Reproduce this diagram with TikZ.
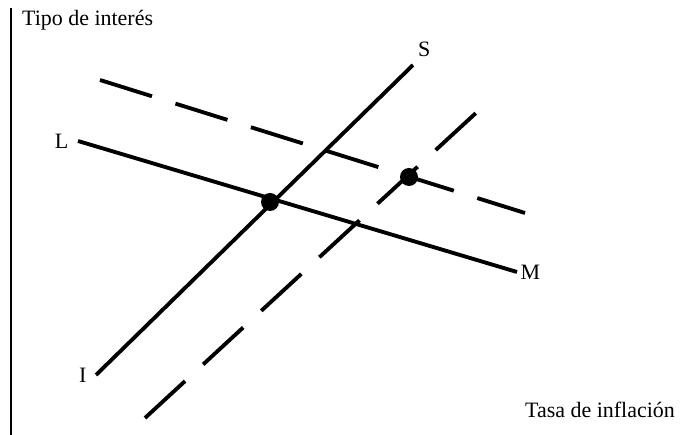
\documentclass[tikz,border=0pt]{standalone}
\usepackage{fontspec}
\setmainfont{Liberation Serif}
\usetikzlibrary{positioning}

\begin{document}
\begin{tikzpicture}[x=0.02cm,y=-0.02cm,font=\fontsize{12.5}{14}\selectfont]
\tikzstyle{curve}=[line width=2.2pt]
\tikzstyle{moved}=[curve,dash pattern=on 31pt off 14pt]
\tikzstyle{lbl}=[inner sep=1pt]
\tikzstyle{eq}=[circle,fill,inner sep=0pt,minimum size=0.36cm]
\useasboundingbox (0,0) rectangle (681,435);
% axis
\coordinate (ytop) at (11,8);
\coordinate (ybot) at (11,435);
\draw[line width=1.2pt] (ytop) -- (ybot);
\node[lbl,anchor=west] (ylab) at (20,20) {Tipo de interés};
\node[lbl,anchor=east] (xlab) at (677,410) {Tasa de inflación};
% LM
\coordinate (lm1) at (78,141);
\coordinate (lm2) at (517,272);
\draw[curve] (lm1) -- (lm2);
\node[lbl,left=1.5mm of lm1] (l) {L};
\node[lbl,right=0.3mm of lm2] (m) {M};
% IS
\coordinate (is1) at (96,375);
\coordinate (is2) at (413,65);
\draw[curve] (is1) -- (is2);
\node[lbl,left=1.5mm of is1] (i) {I};
\node[lbl,above right=1.2mm and 0.6mm of is2] (s) {S};
% shifted curves
\coordinate (lmb1) at (100,80);
\coordinate (lmb2) at (525,213);
\draw[moved] (lmb1) -- (lmb2);
\coordinate (isb1) at (145,418);
\coordinate (isb2) at (477,112);
\draw[moved] (isb1) -- (isb2);
% equilibria
\node[eq] (e1) at (270,202) {};
\node[eq] (e2) at (409,177) {};
\end{tikzpicture}
\end{document}
